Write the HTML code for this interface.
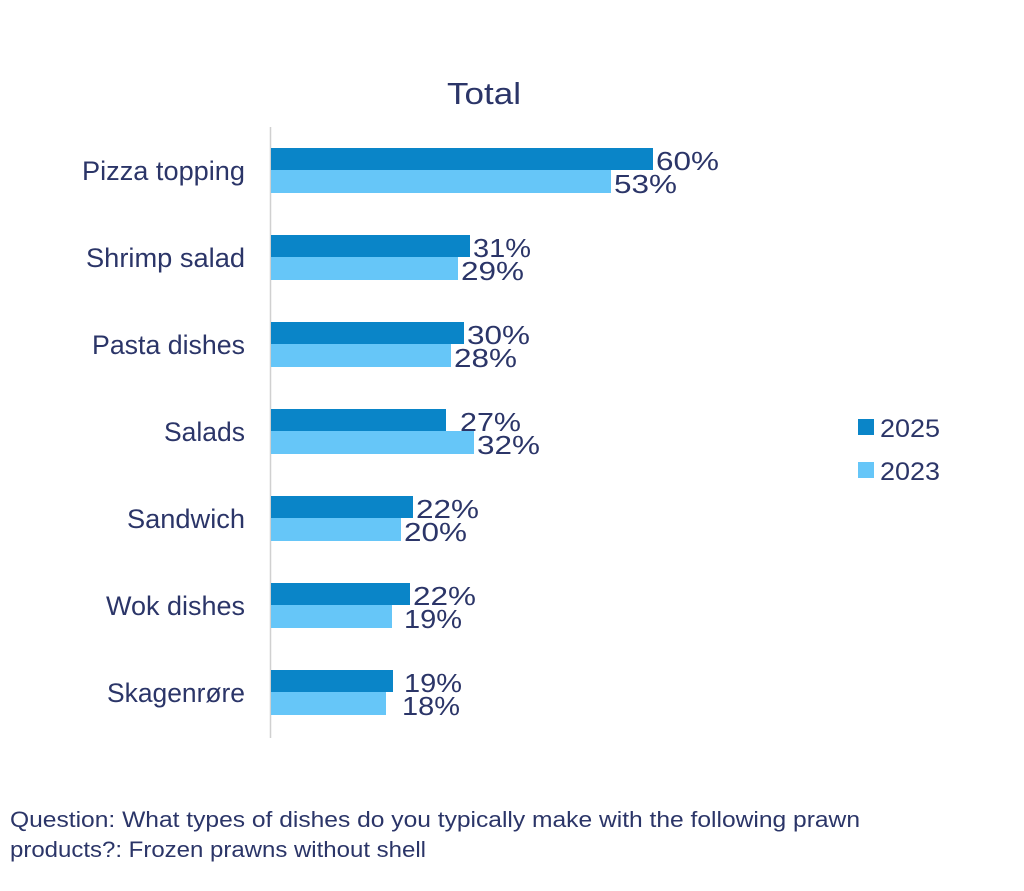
<!DOCTYPE html>
<html><head><meta charset="utf-8"><style>html,body{margin:0;padding:0;background:#fff}svg{display:block}</style></head>
<body>
<svg width="1024" height="891" viewBox="0 0 1024 891" xmlns="http://www.w3.org/2000/svg" font-family="Liberation Sans, sans-serif" fill="#2b3568">
<rect width="1024" height="891" fill="#fff"/>
<text x="484" y="104" font-size="31" text-anchor="middle" textLength="74" lengthAdjust="spacingAndGlyphs">Total</text>
<line x1="270.5" y1="127" x2="270.5" y2="738" stroke="#d0d0d0" stroke-width="1.5"/>
<g font-size="26">
<rect x="271" y="148" width="382" height="22" fill="#0a85c8"/><rect x="271" y="170" width="340" height="23" fill="#66c6f8"/>
<text x="656" y="170" textLength="63" lengthAdjust="spacingAndGlyphs">60%</text><text x="614" y="193" textLength="63" lengthAdjust="spacingAndGlyphs">53%</text>
<rect x="271" y="235" width="199" height="22" fill="#0a85c8"/><rect x="271" y="257" width="187" height="23" fill="#66c6f8"/>
<text x="473" y="257" textLength="58" lengthAdjust="spacingAndGlyphs">31%</text><text x="461" y="280" textLength="63" lengthAdjust="spacingAndGlyphs">29%</text>
<rect x="271" y="322" width="193" height="22" fill="#0a85c8"/><rect x="271" y="344" width="180" height="23" fill="#66c6f8"/>
<text x="467" y="344" textLength="63" lengthAdjust="spacingAndGlyphs">30%</text><text x="454" y="367" textLength="63" lengthAdjust="spacingAndGlyphs">28%</text>
<rect x="271" y="409" width="175" height="22" fill="#0a85c8"/><rect x="271" y="431" width="203" height="23" fill="#66c6f8"/>
<text x="460" y="431" textLength="61" lengthAdjust="spacingAndGlyphs">27%</text><text x="477" y="454" textLength="63" lengthAdjust="spacingAndGlyphs">32%</text>
<rect x="271" y="496" width="142" height="22" fill="#0a85c8"/><rect x="271" y="518" width="130" height="23" fill="#66c6f8"/>
<text x="416" y="518" textLength="63" lengthAdjust="spacingAndGlyphs">22%</text><text x="404" y="541" textLength="63" lengthAdjust="spacingAndGlyphs">20%</text>
<rect x="271" y="583" width="139" height="22" fill="#0a85c8"/><rect x="271" y="605" width="121" height="23" fill="#66c6f8"/>
<text x="413" y="605" textLength="63" lengthAdjust="spacingAndGlyphs">22%</text><text x="404" y="628" textLength="58" lengthAdjust="spacingAndGlyphs">19%</text>
<rect x="271" y="670" width="122" height="22" fill="#0a85c8"/><rect x="271" y="692" width="115" height="23" fill="#66c6f8"/>
<text x="404" y="692" textLength="58" lengthAdjust="spacingAndGlyphs">19%</text><text x="402" y="715" textLength="58" lengthAdjust="spacingAndGlyphs">18%</text>
</g>
<g font-size="27" text-anchor="end">
<text x="245" y="180" textLength="163" lengthAdjust="spacingAndGlyphs">Pizza topping</text>
<text x="245" y="267" textLength="159" lengthAdjust="spacingAndGlyphs">Shrimp salad</text>
<text x="245" y="354" textLength="153" lengthAdjust="spacingAndGlyphs">Pasta dishes</text>
<text x="245" y="441" textLength="81" lengthAdjust="spacingAndGlyphs">Salads</text>
<text x="245" y="528" textLength="118" lengthAdjust="spacingAndGlyphs">Sandwich</text>
<text x="245" y="615" textLength="139" lengthAdjust="spacingAndGlyphs">Wok dishes</text>
<text x="245" y="702" textLength="138" lengthAdjust="spacingAndGlyphs">Skagenrøre</text>
</g>
<rect x="858" y="419" width="16" height="16" fill="#0a85c8"/>
<rect x="858" y="462" width="16" height="16" fill="#66c6f8"/>
<text x="880" y="437" font-size="25" textLength="60" lengthAdjust="spacingAndGlyphs">2025</text>
<text x="880" y="480" font-size="25" textLength="60" lengthAdjust="spacingAndGlyphs">2023</text>
<text x="10" y="827" font-size="22" textLength="850" lengthAdjust="spacingAndGlyphs">Question: What types of dishes do you typically make with the following prawn</text>
<text x="10" y="857" font-size="22" textLength="416" lengthAdjust="spacingAndGlyphs">products?: Frozen prawns without shell</text>
</svg>
</body></html>
